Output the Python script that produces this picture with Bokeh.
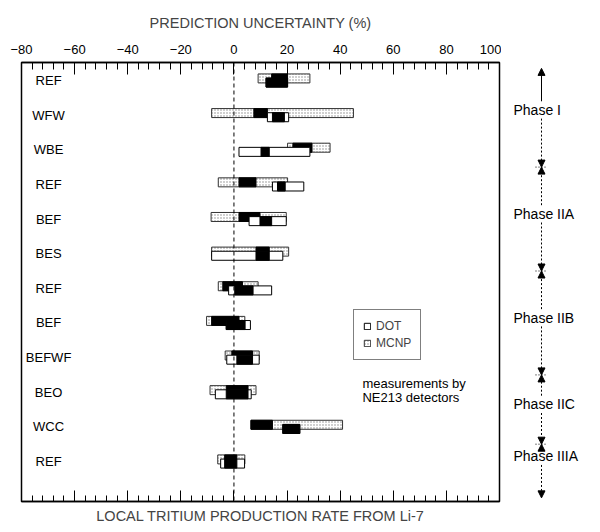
from bokeh.plotting import figure
from bokeh.layouts import row
from bokeh.models import (LinearAxis, FixedTicker, Range1d, Span, Label, Arrow, Title,
                          NormalHead, Legend, LegendItem, ColumnDataSource)
from bokeh.core.properties import value
from bokeh.embed import file_html
from bokeh.resources import INLINE

# ---------------- data ----------------
cases = ["REF", "WFW", "WBE", "REF", "BEF", "BES", "REF", "BEF", "BEFWF", "BEO", "WCC", "REF"]
mcnp_lo = [9.1, -8.4, 20.2, -5.9, -8.6, -8.4, -5.9, -10.3, -3.3, -9.0, 6.4, -6.1]
mcnp_hi = [28.6, 45.0, 36.2, 20.2, 19.7, 20.6, 9.1, 4.1, 9.5, 8.3, 40.9, 4.1]
mcnp_blk_lo = [14.2, 7.5, 22.2, 1.9, 1.9, 8.3, -4.2, -8.4, -0.8, -2.9, 6.4, -3.5]
mcnp_blk_hi = [20.2, 12.6, 29.4, 8.3, 9.8, 13.3, 3.2, 1.9, 7.0, 5.3, 14.5, 1.1]
dot_lo = [12.1, 12.6, 1.9, 14.5, 5.7, -8.4, -2.0, -2.9, -2.7, -7.0, 18.4, -5.0]
dot_hi = [20.2, 20.6, 28.6, 26.3, 19.7, 18.4, 14.2, 6.2, 9.5, 6.5, 24.8, 4.0]
dot_blk_lo = [12.1, 14.5, 10.2, 16.4, 9.8, 8.3, 0.3, -2.9, 1.1, -2.9, 18.4, -3.5]
dot_blk_hi = [20.2, 19.0, 13.3, 19.3, 14.2, 13.3, 7.2, 4.2, 7.0, 5.3, 24.8, 1.1]
phases = ["Phase I", "Phase IIA", "Phase IIB", "Phase IIC", "Phase IIIA"]
phase_sizes = [3, 3, 3, 2, 1]
x_ticks = list(range(-80, 101, 20))
x_minor = list(range(-80, 101, 4))
x_title = "PREDICTION UNCERTAINTY (%)"
x_bottom_title = "LOCAL TRITIUM PRODUCTION RATE FROM Li-7"
note_lines = ["measurements by", "NE213  detectors"]

FONT = "Liberation Sans"
rows = list(range(1, len(cases) + 1))
BAR_H = 0.26
OFF = 0.06
TOP_B, BOT_B = 62, 31

yr = Range1d(13.155, 0.48)

p = figure(width=501, height=532, output_backend="svg", toolbar_location=None,
           x_range=Range1d(-80, 100), y_range=yr,
           x_axis_location=None, y_axis_location=None,
           min_border_left=21, min_border_right=2, min_border_top=TOP_B, min_border_bottom=BOT_B)
p.xgrid.visible = False
p.ygrid.visible = False
p.outline_line_color = "black"
p.outline_line_width = 1.5
p.background_fill_color = "white"
p.border_fill_color = "white"

top = LinearAxis(ticker=FixedTicker(ticks=x_ticks, minor_ticks=x_minor),
                 major_tick_in=12, major_tick_out=0, minor_tick_in=7, minor_tick_out=0,
                 major_label_standoff=9, axis_line_width=1.5,
                 major_label_text_font=FONT, major_label_text_font_size="13px",
                 major_label_text_color="black")
p.add_layout(top, "above")
bot = LinearAxis(ticker=FixedTicker(ticks=x_ticks, minor_ticks=x_minor),
                 major_tick_in=11, major_tick_out=0, minor_tick_in=6, minor_tick_out=0,
                 major_label_standoff=0, axis_line_width=1.5,
                 major_label_overrides={t: "" for t in x_ticks})
p.add_layout(bot, "below")

p.add_layout(Title(text=x_title, align="center", offset=23, standoff=21,
                   text_font=FONT, text_font_size="14.5px", text_font_style="normal"), "above")
p.add_layout(Title(text=x_bottom_title, align="center", offset=14, standoff=8,
                   text_font=FONT, text_font_size="14.5px", text_font_style="normal"), "below")

p.add_layout(Span(location=0, dimension="height", line_dash="4 3", line_color="black", line_width=1))

src = ColumnDataSource(dict(
    y_m=[r - OFF for r in rows], y_d=[r + OFF for r in rows],
    mlo=mcnp_lo, mhi=mcnp_hi, mblo=mcnp_blk_lo, mbhi=mcnp_blk_hi,
    dlo=dot_lo, dhi=dot_hi, dblo=dot_blk_lo, dbhi=dot_blk_hi))

r_m = p.hbar(y="y_m", left="mlo", right="mhi", height=BAR_H, source=src,
             fill_color="white", hatch_pattern="dot", hatch_color="#888", hatch_scale=3,
             line_color="#333", line_width=1)
p.hbar(y="y_m", left="mblo", right="mbhi", height=BAR_H, source=src,
       fill_color="black", line_color="black")
r_d = p.hbar(y="y_d", left="dlo", right="dhi", height=BAR_H, source=src,
             fill_color="white", line_color="black", line_width=1)
p.hbar(y="y_d", left="dblo", right="dbhi", height=BAR_H, source=src,
       fill_color="black", line_color="black")

p.text(x=-69.8, y=rows, text=cases, text_align="center", text_baseline="middle",
       text_font=value(FONT), text_font_size="13px", text_color="black")

legend = Legend(items=[LegendItem(label="DOT", renderers=[r_d]),
                       LegendItem(label="MCNP", renderers=[r_m])],
                location=(332, 141), padding=9, spacing=3, margin=0,
                glyph_width=8, glyph_height=8, label_standoff=5,
                label_text_font=FONT, label_text_font_size="12px",
                border_line_color="black", border_line_width=1.5,
                background_fill_color="white")
p.add_layout(legend)

for i, t in enumerate(note_lines):
    p.add_layout(Label(x=48.4, y=9.75 + i * 0.4, text=t, text_align="left", text_baseline="middle",
                       text_font=FONT, text_font_size="13px", text_color="black"))

# ---------------- right panel: phase annotations ----------------
q = figure(width=99, height=532, output_backend="svg", toolbar_location=None,
           x_range=Range1d(0, 99), y_range=yr,
           x_axis_location=None, y_axis_location=None,
           min_border_left=0, min_border_right=0, min_border_top=TOP_B, min_border_bottom=BOT_B)
q.xgrid.visible = False
q.ygrid.visible = False
q.outline_line_color = None
q.background_fill_color = "white"
q.border_fill_color = "white"

AX = 40
LX = 12
bounds = [0.65]
start = 0
for n in phase_sizes:
    start += n
    bounds.append(start + 0.5)
bounds[-1] = 13.05
centers = []
start = 0
for n in phase_sizes:
    centers.append((start + 1 + start + n) / 2.0 - 0.15)
    start += n

q.text(x=LX, y=centers, text=phases, text_align="left", text_baseline="middle",
       text_font=value(FONT), text_font_size="14px", text_color="black")
for k, yc in enumerate(centers):
    up_dash = "solid" if k == 0 else "2 2"
    q.add_layout(Arrow(x_start=AX, y_start=yc - 0.25, x_end=AX, y_end=bounds[k],
                       line_dash=up_dash, line_width=1,
                       end=NormalHead(size=7, fill_color="black", line_color="black")))
    q.add_layout(Arrow(x_start=AX, y_start=yc + 0.25, x_end=AX, y_end=bounds[k + 1],
                       line_dash="2 2", line_width=1,
                       end=NormalHead(size=7, fill_color="black", line_color="black")))
q.segment(x0=[AX - 6] * 4, x1=[AX + 6] * 4, y0=bounds[1:-1], y1=bounds[1:-1],
          line_dash="1 2", line_color="black", line_width=1)

layout = row(p, q, spacing=0)
open("out.html", "w").write(file_html(layout, INLINE))
